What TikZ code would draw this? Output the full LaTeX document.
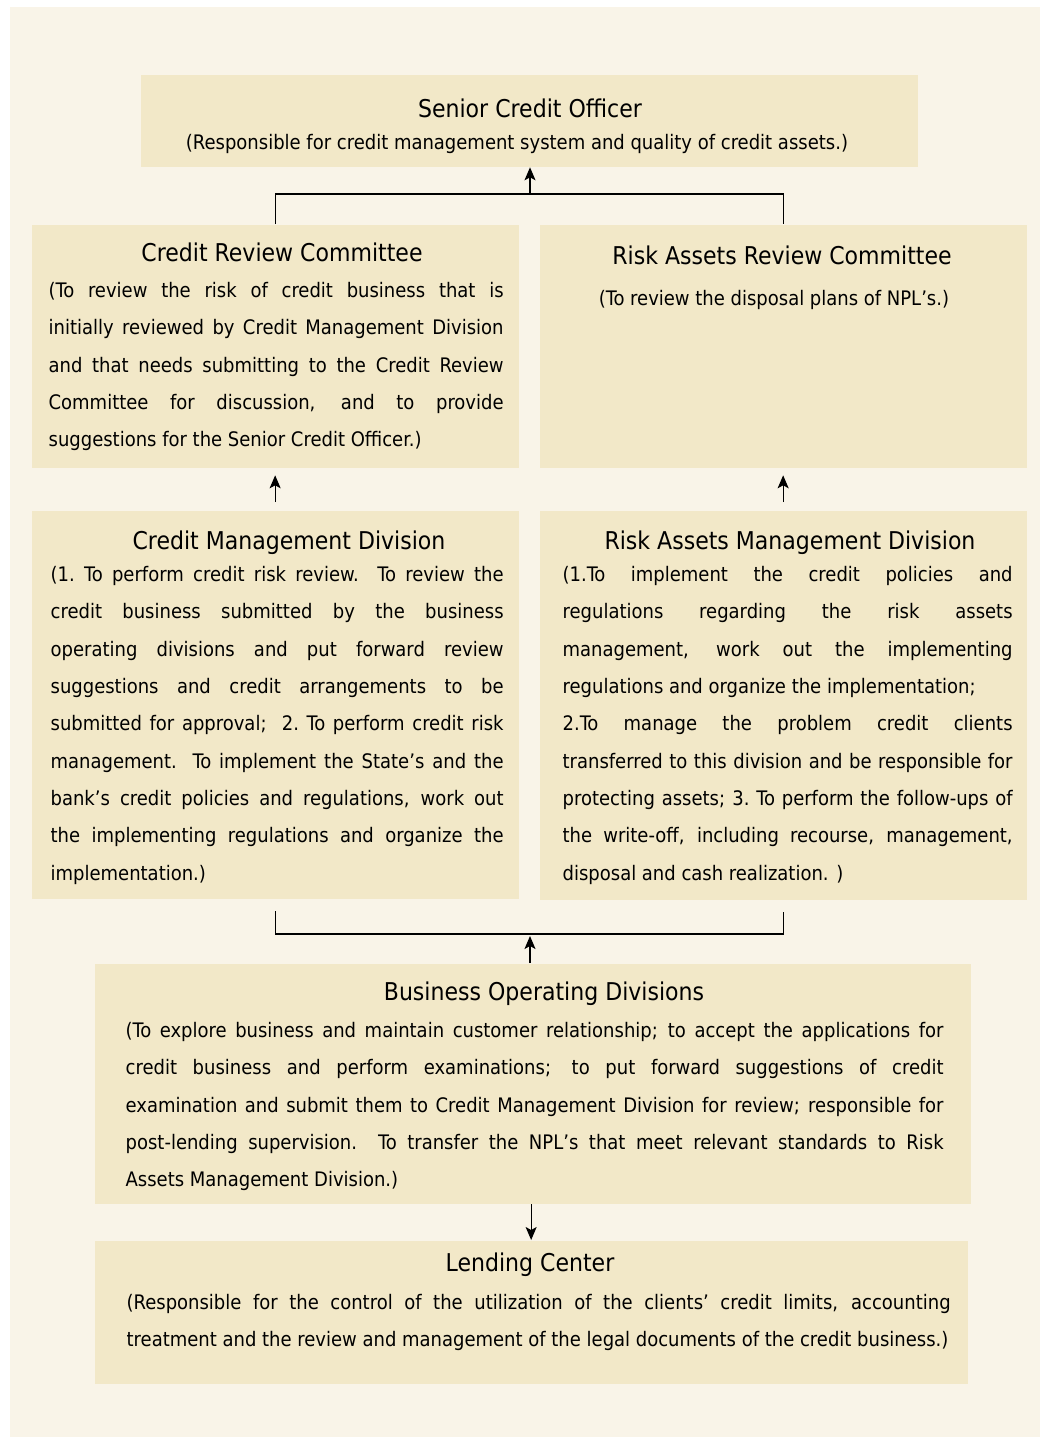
\documentclass[tikz,border=0pt]{standalone}
\usepackage{fontspec}
\setmainfont{DejaVu Sans Condensed}
\usetikzlibrary{arrows.meta}
\definecolor{pagebg}{HTML}{F9F4E8}
\definecolor{boxbg}{HTML}{F2E8C8}
\newcommand{\jl}[2]{\makebox[#1pt][s]{#2}}
\tikzset{
	box_org/.style = {
		rectangle,
		fill=boxbg,
		draw=none,
		inner sep=0pt,
		anchor=north west
	},
	box_title/.style = {
		inner sep=0pt,
		anchor=base,
		font=\fontsize{24.5}{28}\selectfont
	},
	box_sub/.style = {
		inner sep=0pt,
		anchor=base,
		font=\fontsize{20}{24}\selectfont
	},
	box_body/.style = {
		inner sep=0pt,
		align=left,
		anchor=north west,
		font=\fontsize{20}{37.3}\selectfont
	},
}

\begin{document}
\begin{tikzpicture}[x=1pt,y=-1pt,>={Stealth[length=13pt,width=11pt,inset=3pt]},line width=1.3pt]
\useasboundingbox[fill=white] (0,0) rectangle (1047,1437);
\fill[pagebg] (10,7) rectangle (1040,1437);

% boxes
\node [box_org, minimum width=777pt, minimum height=92pt] (senior) at (140,74) {};
\node [box_org, minimum width=487pt, minimum height=243pt] (crc) at (31,224) {};
\node [box_org, minimum width=487pt, minimum height=243pt] (rarc) at (539,224) {};
\node [box_org, minimum width=487pt, minimum height=388pt] (cmd) at (31,510) {};
\node [box_org, minimum width=487pt, minimum height=389pt] (ramd) at (539,510) {};
\node [box_org, minimum width=876pt, minimum height=240pt] (bod) at (94,963) {};
\node [box_org, minimum width=873pt, minimum height=143pt] (lc) at (94,1240) {};

% senior credit officer
\node [box_title] (senior_t) at (530,117) {Senior Credit Officer};
\node [box_sub] (senior_b) at (517,149) {(Responsible for credit management system and quality of credit assets.)};

% committees
\node [box_title] (crc_t) at (282,261) {Credit Review Committee};
\node [box_body] (crc_b) at (48,281.8) {%
\jl{455}{(To review the risk of credit business that is}\\
\jl{455}{initially reviewed by Credit Management Division}\\
\jl{455}{and that needs submitting to the Credit Review}\\
\jl{455}{Committee for discussion, and to provide}\\
suggestions for the Senior Credit Officer.)};

\node [box_title] (rarc_t) at (782,264) {Risk Assets Review Committee};
\node [box_sub] (rarc_b) at (774,305) {(To review the disposal plans of NPL’s.)};

% divisions
\node [box_title] (cmd_t) at (289,549) {Credit Management Division};
\node [box_body] (cmd_b) at (50,565.8) {%
\jl{453}{(1.\@ To perform credit risk review.\ \ To review the}\\
\jl{453}{credit business submitted by the business}\\
\jl{453}{operating divisions and put forward review}\\
\jl{453}{suggestions and credit arrangements to be}\\
\jl{453}{submitted for approval;\ \ 2.\@ To perform credit risk}\\
\jl{453}{management.\ \ To implement the State’s and the}\\
\jl{453}{bank’s credit policies and regulations, work out}\\
\jl{453}{the implementing regulations and organize the}\\
implementation.)};

\node [box_title] (ramd_t) at (790,549) {Risk Assets Management Division};
\node [box_body] (ramd_b) at (562,565.8) {%
\jl{450}{(1.To implement the credit policies and}\\
\jl{450}{regulations regarding the risk assets}\\
\jl{450}{management, work out the implementing}\\
regulations and organize the implementation;\\
\jl{450}{2.To manage the problem credit clients}\\
\jl{450}{transferred to this division and be responsible for}\\
\jl{450}{protecting assets; 3.\@ To perform the follow-ups of}\\
\jl{450}{the write-off, including recourse, management,}\\
disposal and cash realization. )};

% business operating divisions
\node [box_title] (bod_t) at (544,1000) {Business Operating Divisions};
\node [box_body] (bod_b) at (125,1021.8) {%
\jl{818}{(To explore business and maintain customer relationship; to accept the applications for}\\
\jl{818}{credit business and perform examinations; to put forward suggestions of credit}\\
\jl{818}{examination and submit them to Credit Management Division for review; responsible for}\\
\jl{818}{post-lending supervision.\ \ To transfer the NPL’s that meet relevant standards to Risk}\\
Assets Management Division.)};

% lending center
\node [box_title] (lc_t) at (530,1271) {Lending Center};
\node [box_body] (lc_b) at (126,1293.8) {%
\jl{824}{(Responsible for the control of the utilization of the clients’ credit limits, accounting}\\
treatment and the review and management of the legal documents of the credit business.)};

% connectors
\coordinate (top_join) at (530,194);
\draw (crc.north) |- (top_join) -| (rarc.north);
\draw [->] (top_join) -- (top_join |- senior.south);
\draw [->, shorten <=8pt, shorten >=7pt] (cmd.north) -- (crc.south);
\draw [->, shorten <=8pt, shorten >=7pt] (ramd.north) -- (rarc.south);
\coordinate (bot_join) at (530,934);
\draw ([yshift=-12pt]cmd.south) |- (bot_join) -| ([yshift=-12pt]ramd.south);
\draw [->] (bot_join |- bod.north) -- ([yshift=-2pt]bot_join);
\draw [->] (lc.north |- bod.south) -- (lc.north);
\end{tikzpicture}
\end{document}
